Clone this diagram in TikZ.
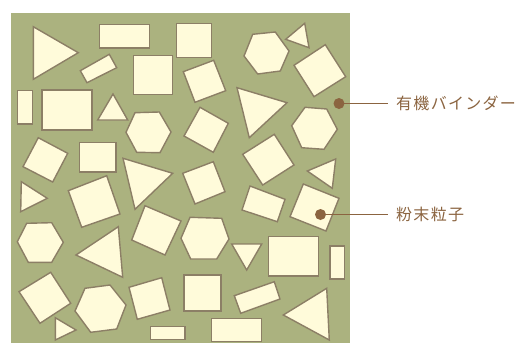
\documentclass[tikz,border=0pt]{standalone}
\usepackage{fontspec}
\newfontfamily\cjk{Noto Sans CJK JP}
\definecolor{bggreen}{HTML}{ABB27F}
\definecolor{cream}{HTML}{FFFBDA}
\definecolor{edge}{HTML}{8C7F66}
\definecolor{brownlbl}{HTML}{8B6440}
\tikzset{
  particle/.style={draw=edge, fill=cream, line width=1.4pt, line join=miter},
  leader/.style={draw=brownlbl, line width=1.8pt},
  dotmark/.style={circle, fill=brownlbl, inner sep=0pt, minimum size=11pt},
  lbl/.style={anchor=west, inner sep=0pt, text=brownlbl, font=\cjk\fontsize{16}{16}\selectfont\addfontfeature{LetterSpace=8}}
}
\begin{document}
\begin{tikzpicture}[x=1pt,y=-1pt]
\useasboundingbox (0,0) rectangle (528,343);
\fill[bggreen] (11,13) rectangle (350,343);
% row 1
\draw[particle] (33.3,26.7) -- (78.3,52.7) -- (33.3,79.3) -- cycle;
\draw[particle] (99.3,24.7) rectangle (149.3,48);
\draw[particle] (80.3,70.7) -- (109.3,54.3) -- (116.7,67.7) -- (87,82.7) -- cycle;
\draw[particle] (133.7,55.7) rectangle (172.7,94.3);
\draw[particle] (176.7,23.3) rectangle (211.3,57.3);
\draw[particle] (252.7,34.3) -- (275.3,32) -- (289,51) -- (280.3,71) -- (257.7,74) -- (244,56) -- cycle;
\draw[particle] (285.7,39.3) -- (304.7,23.3) -- (309,47.7) -- cycle;
\draw[particle] (294,65.3) -- (325.3,44.7) -- (345.7,76.7) -- (314,96.7) -- cycle;
% row 2
\draw[particle] (17.3,90.7) rectangle (32.7,124);
\draw[particle] (42,90) rectangle (92,130);
\draw[particle] (113,94) -- (127.7,120) -- (97.7,120) -- cycle;
\draw[particle] (126,132.3) -- (135,112.7) -- (159.3,112) -- (171,132) -- (160,152.7) -- (136.7,152.3) -- cycle;
\draw[particle] (183.3,71.7) -- (213.7,60.3) -- (225.7,90.7) -- (195,102.3) -- cycle;
\draw[particle] (237,87.7) -- (287,102.7) -- (249.3,137.7) -- cycle;
\draw[particle] (305,107.3) -- (326.7,109) -- (337.3,129.3) -- (324,149.3) -- (301.7,147.7) -- (291.7,125.7) -- cycle;
% row 3
\draw[particle] (38.3,137.7) -- (67.7,153.3) -- (52.7,182) -- (23,166.7) -- cycle;
\draw[particle] (79.3,142.7) rectangle (116,172);
\draw[particle] (123,158.3) -- (172.7,173.3) -- (135,209.3) -- cycle;
\draw[particle] (200,107.3) -- (228.3,123.3) -- (213.3,152.3) -- (184,136) -- cycle;
\draw[particle] (242.7,154.3) -- (274.3,134.3) -- (294,165) -- (262.7,185) -- cycle;
\draw[particle] (307.3,171) -- (335.7,159) -- (332.3,188.3) -- cycle;
% row 4
\draw[particle] (21.3,181.7) -- (47.3,198.3) -- (20.7,211.7) -- cycle;
\draw[particle] (68.3,190.7) -- (106.7,175.7) -- (120,214) -- (81.7,227.3) -- cycle;
\draw[particle] (182.7,173.3) -- (213.3,161.7) -- (225,191.7) -- (195,204) -- cycle;
\draw[particle] (250,186) -- (285,199.3) -- (277.3,221.7) -- (242,210) -- cycle;
\draw[particle] (303.3,184) -- (339,198.3) -- (326,231) -- (290,216.7) -- cycle;
% row 5
\draw[particle] (26.7,223.3) -- (51.7,222.7) -- (63.3,242.3) -- (51.7,262.3) -- (28.3,262.3) -- (17.3,241.7) -- cycle;
\draw[particle] (76,255) -- (118.3,226.7) -- (122.7,277.3) -- cycle;
\draw[particle] (145,205.7) -- (181,221) -- (165,255) -- (131.7,240) -- cycle;
\draw[particle] (190,217.3) -- (221.7,218.3) -- (229,239) -- (216.7,259) -- (190.7,259) -- (181,238.3) -- cycle;
\draw[particle] (231.7,244) -- (261.7,244) -- (246.7,270) -- cycle;
\draw[particle] (268.3,236.7) rectangle (318.3,276);
\draw[particle] (330,246) rectangle (344.3,279);
% row 6
\draw[particle] (19,291.7) -- (50.7,272.3) -- (70.7,303.3) -- (40,323.3) -- cycle;
\draw[particle] (75,311) -- (85,288.3) -- (110,285) -- (126,305) -- (116.7,329) -- (90.7,332.3) -- cycle;
\draw[particle] (55.3,317.7) -- (76,330) -- (55.3,340) -- cycle;
\draw[particle] (129,287.3) -- (161.7,277.7) -- (170,310) -- (137.3,319.3) -- cycle;
\draw[particle] (150.7,326.7) rectangle (185,339.3);
\draw[particle] (184,275) rectangle (221,311);
\draw[particle] (234.3,295.7) -- (274.3,281.7) -- (280,299) -- (240.7,313.3) -- cycle;
\draw[particle] (283.3,315) -- (326.7,288.3) -- (329.3,340) -- cycle;
\draw[particle] (211.7,318.3) rectangle (261.7,341.7);
% labels
\node[dotmark] (d1) at (339,103.5) {};
\node[dotmark] (d2) at (320.5,214.5) {};
\node[lbl] (t1) at (396,103.5) {有機バインダー};
\node[lbl] (t2) at (396,214.5) {粉末粒子};
\draw[leader] (d1.center) -- ([xshift=-8pt]t1.west);
\draw[leader] (d2.center) -- ([xshift=-8pt]t2.west);
\end{tikzpicture}
\end{document}
